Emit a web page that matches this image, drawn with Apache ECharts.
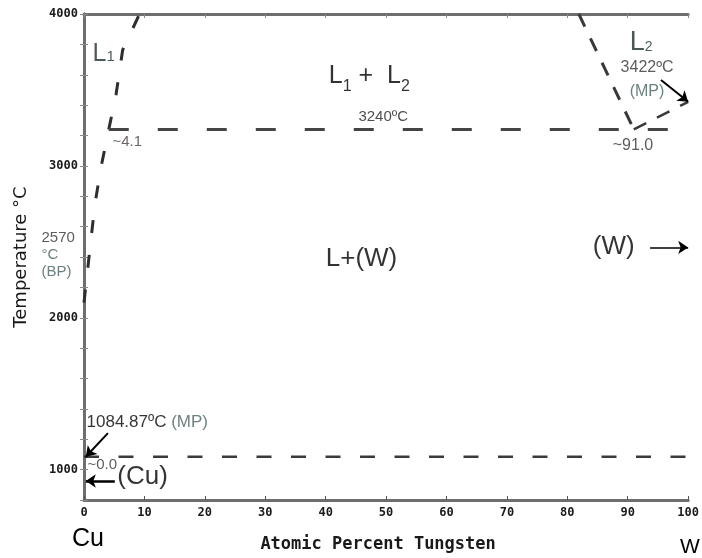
<!DOCTYPE html>
<html>
<head>
<meta charset="utf-8">
<title>Cu-W phase diagram</title>
<script src="https://cdn.jsdelivr.net/npm/echarts@6/dist/echarts.min.js"></script>
<style>
  html, body { margin: 0; padding: 0; background: #fff; }
  #chart { width: 702px; height: 558px; }
</style>
</head>
<body>
<div id="chart"></div>
<script>
  // values (x = atomic % W, y = temperature in °C)
  const yTickLabels = [1000, 2000, 3000, 4000];
  const cuMelt = 1084.87;
  const wMelt = 3422;
  const monotectic = 3240;
  const l1Edge = [[0, 2100], [0.66, 2338], [1.15, 2515], [1.8, 2745], [2.8, 2988], [4.1, 3240], [5.3, 3468], [6.4, 3763], [9.2, 4000]];
  const l2Edge = [[81.9, 4000], [91.0, 3240]];
  const wLiquidus = [[91.0, 3240], [100, wMelt]];
  const monotecticLine = [[4.1, monotectic], [100, monotectic]];
  const cuMeltLine = [[0, cuMelt], [100, cuMelt]];
  const wSolidT = 2463;
  const cuSolidT = 925;

  const chart = echarts.init(document.getElementById('chart'));
  const sans = 'Liberation Sans';
  const grey = '#6e6e6e';
  const teal = '#476060';

  function note(x, y, formatter, rich, offset) {
    return {
      value: [x, y],
      label: {
        show: true,
        position: [0, 0],
        offset: offset || [0, 0],
        align: 'left',
        verticalAlign: 'top',
        formatter: formatter,
        fontFamily: sans,
        color: '#000',
        textBorderWidth: 0,
        rich: rich || {}
      }
    };
  }

  const notes = [
    note(1.49, 3816, '{a|L}{b|1}', {
      a: { fontSize: 25, lineHeight: 25, verticalAlign: 'top', fontFamily: sans, color: '#1e2e2e' },
      b: { fontSize: 15, lineHeight: 15, verticalAlign: 'top', padding: [8, 0, 0, 0], fontFamily: sans, color: '#1e2e2e' }
    }),
    note(40.6, 3671, '{a|L}{b|1}{a| +  L}{b|2}', {
      a: { fontSize: 25, lineHeight: 25, verticalAlign: 'top', fontFamily: sans, color: '#000' },
      b: { fontSize: 16, lineHeight: 16, verticalAlign: 'top', padding: [15, 0, 0, 0], fontFamily: sans, color: '#000' }
    }),
    note(45.5, 3369, '{a|3240ºC}', { a: { fontSize: 15, fontFamily: sans, color: '#222' } }),
    note(4.79, 3205, '{a|~4.1}', { a: { fontSize: 15, fontFamily: sans, color: '#4a4040' } }),
    note(90.4, 3898, '{a|L}{b|2}', {
      a: { fontSize: 27, lineHeight: 27, verticalAlign: 'top', fontFamily: sans, color: '#1e2e2e' },
      b: { fontSize: 14, lineHeight: 14, verticalAlign: 'top', padding: [11, 0, 0, 0], fontFamily: sans, color: '#1e2e2e' }
    }),
    note(88.9, 3698, '{a|3422ºC}', { a: { fontSize: 16, fontFamily: sans, color: '#333' } }),
    note(90.4, 3540, '{a|(MP)}', { a: { fontSize: 16, fontFamily: sans, color: teal } }),
    note(87.6, 3185, '{a|~91.0}', { a: { fontSize: 16, fontFamily: sans, color: '#333' } }),
    note(40.1, 2469, '{a|L+(W)}', { a: { fontSize: 26, fontFamily: sans, color: '#000' } }),
    note(84.3, 2548, '{a|(W)}', { a: { fontSize: 26, fontFamily: sans, color: '#000' } }),
    note(0, 2581, '{a|2570}\n{b|°C}\n{b|(BP)}', {
      a: { fontSize: 15, lineHeight: 17, fontFamily: sans, color: '#333' },
      b: { fontSize: 15, lineHeight: 17, fontFamily: sans, color: teal }
    }, [-42, 0]),
    note(0.5, 1362, '{a|1084.87ºC }{b|(MP)}', {
      a: { fontSize: 17, fontFamily: sans, color: '#000' },
      b: { fontSize: 17, fontFamily: sans, color: teal }
    }),
    note(0.66, 1076, '{a|~0.0}', { a: { fontSize: 15, fontFamily: sans, color: '#333' } }),
    note(5.6, 1037, '{a|(Cu)}', { a: { fontSize: 26, fontFamily: sans, color: '#000' } })
  ];

  function dashed(data, dash, width, color) {
    return {
      type: 'line',
      data: data,
      symbol: 'none',
      silent: true,
      lineStyle: { type: dash, width: width, color: color, cap: 'butt' }
    };
  }

  const arrows = dashed(cuMeltLine, [15, 19.5], 2.5, '#3a3a3a');
  arrows.markLine = {
    silent: true,
    symbol: ['none', 'arrow'],
    symbolSize: 10,
    label: { show: false },
    lineStyle: { type: 'solid', color: '#000', width: 2 },
    data: [
      [{ coord: [95.5, 3566] }, { coord: [100, wMelt] }],
      [{ coord: [93.7, wSolidT], lineStyle: { width: 1.5 } }, { coord: [100, wSolidT] }],
      [{ coord: [3.96, 1240] }, { coord: [0.3, cuMelt] }],
      [{ coord: [5.1, cuSolidT], lineStyle: { width: 2.5 } }, { coord: [0.3, cuSolidT] }]
    ]
  };

  const tickFont = { fontFamily: 'DejaVu Sans Mono', fontWeight: 'bold', fontSize: 12, color: '#1a1a1a' };

  const option = {
    animation: false,
    backgroundColor: '#fff',
    grid: { left: 84, right: 12, top: 14, bottom: 57, containLabel: false },
    xAxis: [{
      type: 'value', min: 0, max: 100, interval: 10,
      name: 'Atomic Percent Tungsten',
      nameLocation: 'middle', nameGap: 36,
      nameTextStyle: { fontFamily: 'DejaVu Sans Mono', fontWeight: 'bold', fontSize: 17, color: '#1a1a1a', padding: [0, 16, 0, 0] },
      axisLine: { show: true, lineStyle: { color: grey, width: 3 } },
      axisTick: { show: true, inside: true, length: 4, lineStyle: { color: '#555' } },
      axisLabel: Object.assign({ margin: 7 }, tickFont),
      splitLine: { show: false }
    }, {
      type: 'value', min: 0, max: 100, interval: 10, position: 'top',
      axisLine: { show: true, lineStyle: { color: grey, width: 3 } },
      axisTick: { show: true, inside: true, length: 4, lineStyle: { color: '#888' } },
      axisLabel: { show: false },
      splitLine: { show: false }
    }],
    yAxis: [{
      type: 'value', min: 800, max: 4000, interval: 200,
      name: 'Temperature °C',
      nameLocation: 'middle', nameGap: 54,
      nameTextStyle: { fontFamily: 'DejaVu Sans', fontSize: 18, color: '#1a1a1a' },
      axisLine: { show: true, lineStyle: { color: grey, width: 3 } },
      axisTick: { show: true, inside: true, length: 4, lineStyle: { color: '#888' } },
      axisLabel: Object.assign({
        margin: 6,
        formatter: v => (yTickLabels.indexOf(v) >= 0 ? String(v) : '')
      }, tickFont),
      splitLine: { show: false }
    }, {
      type: 'value', min: 800, max: 4000, interval: 200, position: 'right',
      axisLine: { show: true, lineStyle: { color: grey, width: 3 } },
      axisTick: { show: true, inside: true, length: 4, lineStyle: { color: '#888' } },
      axisLabel: { show: false },
      splitLine: { show: false }
    }],
    graphic: [
      { type: 'text', left: 72, top: 527, silent: true,
        style: { text: 'Cu', fontFamily: sans, fontSize: 25, fill: '#000' } },
      { type: 'text', left: 680, top: 537, silent: true,
        style: { text: 'W', fontFamily: sans, fontSize: 21, fill: '#000' } }
    ],
    series: [
      dashed(l1Edge, [13, 22], 3, '#2e2e2e'),
      dashed(l2Edge, [14, 13], 3, '#3a3a3a'),
      dashed(wLiquidus, [14, 12], 2.5, '#3a3a3a'),
      dashed(monotecticLine, [20, 29], 3, '#444'),
      arrows,
      {
        type: 'scatter',
        clip: false,
        silent: true,
        symbolSize: 1,
        itemStyle: { color: 'rgba(0,0,0,0)' },
        data: notes
      }
    ]
  };

  chart.setOption(option);
</script>
</body>
</html>
